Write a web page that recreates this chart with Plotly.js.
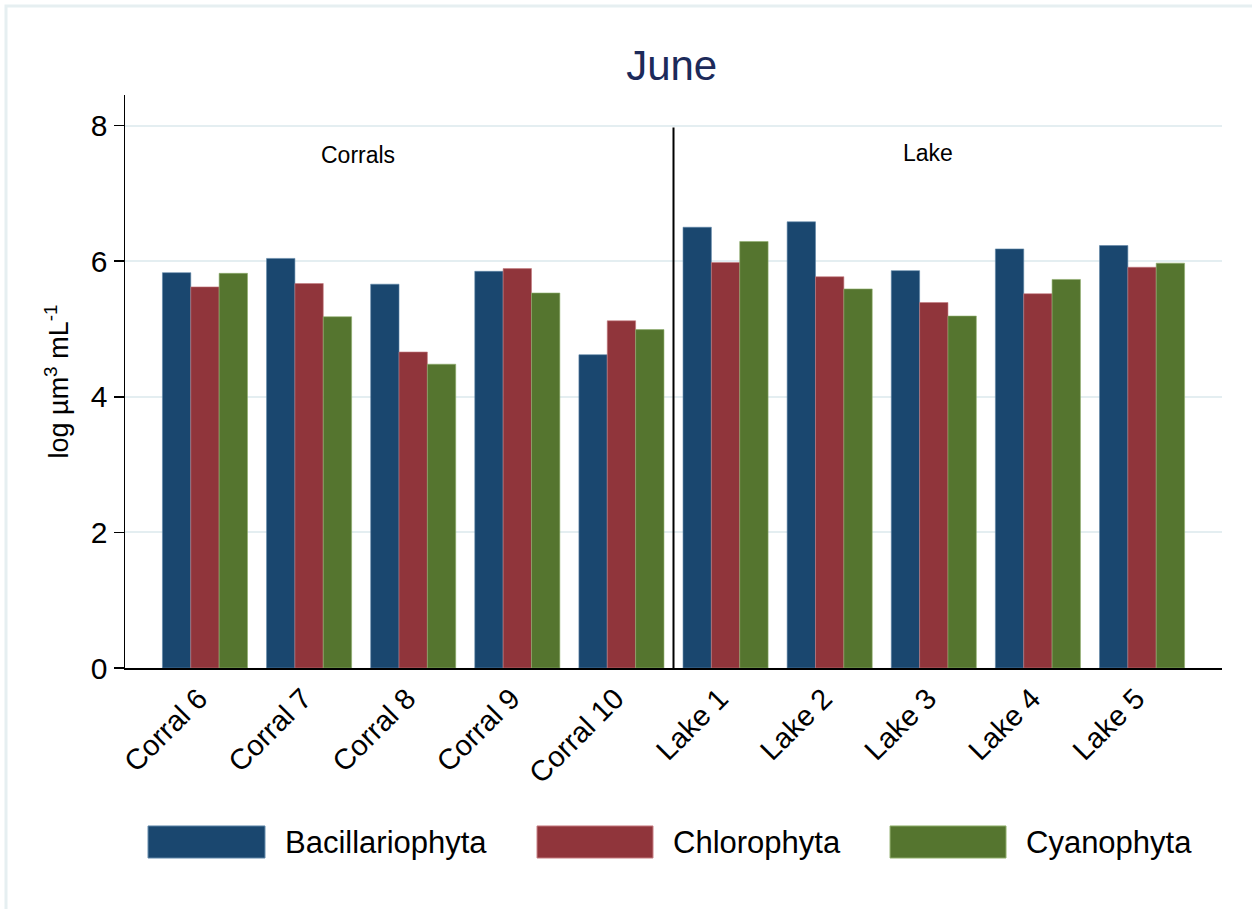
<!DOCTYPE html>
<html>
<head>
<meta charset="utf-8">
<script src="https://cdn.plot.ly/plotly-3.0.1.min.js"></script>
<style>
html, body { margin: 0; padding: 0; background: #ffffff; }
#chart { width: 1252px; height: 909px; }
</style>
</head>
<body>
<div id="chart"></div>
<script>
var categories = ["Corral 6", "Corral 7", "Corral 8", "Corral 9", "Corral 10",
                  "Lake 1", "Lake 2", "Lake 3", "Lake 4", "Lake 5"];
var bacillariophyta = [5.83, 6.04, 5.66, 5.85, 4.62, 6.50, 6.58, 5.86, 6.18, 6.23];
var chlorophyta     = [5.62, 5.67, 4.66, 5.89, 5.12, 5.98, 5.77, 5.39, 5.52, 5.91];
var cyanophyta      = [5.82, 5.18, 4.48, 5.53, 4.99, 6.29, 5.59, 5.19, 5.73, 5.97];
var seriesNames = ["Bacillariophyta", "Chlorophyta", "Cyanophyta"];
var yTicks = [0, 2, 4, 6, 8];
var groupLabels = ["Corrals", "Lake"];

var colors = ["#1a476f", "#90353b", "#55752f"];
var outline = ["#5f86a8", "#c57a7f", "#8fae6b"];
var FONT = "Liberation Sans, Arial, Helvetica, sans-serif";

var seriesVals = [bacillariophyta, chlorophyta, cyanophyta];
var traces = seriesVals.map(function (vals, i) {
  return {
    type: "bar",
    name: seriesNames[i],
    x: categories,
    y: vals,
    marker: { color: colors[i], line: { color: outline[i], width: 0.6 } },
    showlegend: false,
    hoverinfo: "x+y+name"
  };
});

// legend drawn manually (large swatches as in reference)
var legX = [[0.021, 0.1276, 0.1440], [0.3756, 0.4813, 0.4977], [0.6974, 0.8031, 0.8195]];
var shapes = [
  { type: "line", xref: "x", yref: "y", x0: 4.5, x1: 4.5, y0: 0, y1: 7.97,
    line: { color: "#000000", width: 2 } },
  { type: "rect", xref: "paper", yref: "paper",
    x0: (6 - 125) / 1097, x1: (1270 - 125) / 1097,
    y0: (668 - 930) / 573, y1: (668 - 6) / 573,
    line: { color: "#e6eff1", width: 3 }, fillcolor: "rgba(0,0,0,0)", layer: "below" }
];
var annotations = [
  { text: groupLabels[0], x: 1.47, y: 7.57, xref: "x", yref: "y", showarrow: false,
    font: { family: FONT, size: 23, color: "#000" } },
  { text: groupLabels[1], x: 6.94, y: 7.6, xref: "x", yref: "y", showarrow: false,
    font: { family: FONT, size: 23, color: "#000" } }
];
seriesNames.forEach(function (n, i) {
  shapes.push({ type: "rect", xref: "paper", yref: "paper",
    x0: legX[i][0], x1: legX[i][1], y0: -0.2757, y1: -0.3316,
    fillcolor: colors[i], line: { color: outline[i], width: 1 } });
  annotations.push({ text: n, xref: "paper", yref: "paper", x: legX[i][2], y: -0.3037,
    xanchor: "left", yanchor: "middle", showarrow: false,
    font: { family: FONT, size: 31, color: "#000" } });
});

var layout = {
  width: 1252, height: 909,
  margin: { l: 125, r: 30, t: 95, b: 241, pad: 0 },
  paper_bgcolor: "#ffffff",
  plot_bgcolor: "#ffffff",
  title: { text: "June", x: 0.5365, xanchor: "center", y: 0.928, yanchor: "middle",
           font: { family: FONT, size: 42, color: "#1c2a5a" } },
  barmode: "group",
  bargap: 0.183,
  bargroupgap: 0,
  xaxis: {
    type: "category",
    range: [-0.768, 9.768],
    tickangle: -45,
    tickfont: { family: FONT, size: 29, color: "#000" },
    ticklabelshift: -6,
    showline: true, linecolor: "#000", linewidth: 2,
    ticks: "", showgrid: false, zeroline: false
  },
  yaxis: {
    range: [0, 8.45],
    tickvals: yTicks,
    ticktext: yTicks.map(String),
    tickfont: { family: FONT, size: 30, color: "#000" },
    ticks: "outside", ticklen: 10, tickcolor: "#000", tickwidth: 1.5,
    showline: true, linecolor: "#000", linewidth: 1.5,
    showgrid: true, gridcolor: "#e4eef1", gridwidth: 2,
    zeroline: false,
    title: { text: "log µm<sup>3</sup> mL<sup>-1</sup>", standoff: 14,
             font: { family: FONT, size: 27, color: "#000" } }
  },
  shapes: shapes,
  annotations: annotations
};

Plotly.newPlot("chart", traces, layout, { displayModeBar: false, staticPlot: true });
</script>
</body>
</html>
